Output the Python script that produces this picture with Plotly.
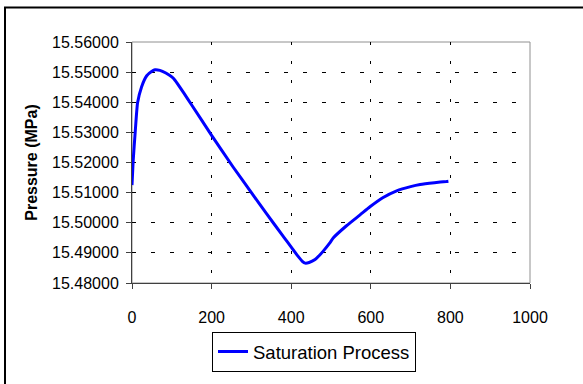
import plotly.graph_objects as go

time_s = [0, 3, 8, 14, 24, 37, 50, 58, 70, 85, 100, 108, 130, 150, 200, 254, 300, 338, 380, 414,
          428, 435, 445, 460, 480, 497, 506, 539, 573, 598, 630, 665, 700, 724, 760, 790, 795]
pressure = [15.5125, 15.5207, 15.5300, 15.5398, 15.5451, 15.5488, 15.5503, 15.5508, 15.5506, 15.5497,
            15.5484, 15.5473, 15.5431, 15.5391, 15.5290, 15.5185, 15.5100, 15.5030, 15.4955, 15.4894,
            15.4872, 15.4866, 15.4868, 15.4878, 15.4905, 15.4933, 15.4950, 15.4990, 15.5026, 15.5053,
            15.5083, 15.5106, 15.5120, 15.5127, 15.5133, 15.5137, 15.5138]

x_ticks = [0, 200, 400, 600, 800, 1000]
y_ticks = [15.48, 15.49, 15.50, 15.51, 15.52, 15.53, 15.54, 15.55, 15.56]

fig = go.Figure()
fig.add_trace(go.Scatter(
    x=time_s, y=pressure, mode="lines", name="Saturation Process",
    line=dict(color="#0000FF", width=3, shape="spline", smoothing=0.5),
))

L, R, T, B = 132, 53, 42, 91
W, H = 583, 384
pw = W - L - R
ph = H - T - B

fig.update_layout(
    width=W, height=H,
    margin=dict(l=L, r=R, t=T, b=B, pad=0),
    paper_bgcolor="white", plot_bgcolor="white",
    font=dict(family="Liberation Sans, Arial, sans-serif", color="black", size=16),
    showlegend=True,
    legend=dict(
        orientation="h", x=(314 - L) / pw, xanchor="center",
        y=-(344 - (H - B)) / ph, yanchor="top",
        bordercolor="black", borderwidth=1, bgcolor="white",
        font=dict(size=18.5),
        itemwidth=30,
    ),
    xaxis=dict(
        range=[0, 1000], tickvals=x_ticks, ticktext=[str(v) for v in x_ticks],
        showline=True, linecolor="#404040", linewidth=1,
        ticks="outside", ticklen=5, tickcolor="#404040",
        showgrid=True, gridcolor="black", gridwidth=1, griddash="3px,16px",
        zeroline=False, ticklabelstandoff=15,
    ),
    yaxis=dict(
        range=[15.48, 15.56], tickvals=y_ticks, tickformat=".5f",
        showline=True, linecolor="#404040", linewidth=1,
        ticks="outside", ticklen=5, tickcolor="#404040",
        showgrid=True, gridcolor="black", gridwidth=1, griddash="4px,15px",
        zeroline=False, ticklabelstandoff=4,
        title=dict(text="<b>Pressure (MPa)</b>", font=dict(size=16), standoff=10),
    ),
    shapes=[
        dict(type="rect", xref="paper", yref="paper", x0=0, x1=1, y0=0, y1=1,
             line=dict(color="#909090", width=1), layer="below"),
        dict(type="rect", xref="paper", yref="paper",
             x0=(5 - L) / pw, x1=(W + 20 - L) / pw,
             y0=-(H + 20 - (H - B)) / ph, y1=((H - B) - 6) / ph,
             line=dict(color="black", width=2), layer="below"),
    ],
)

fig.write_html("out.html")
